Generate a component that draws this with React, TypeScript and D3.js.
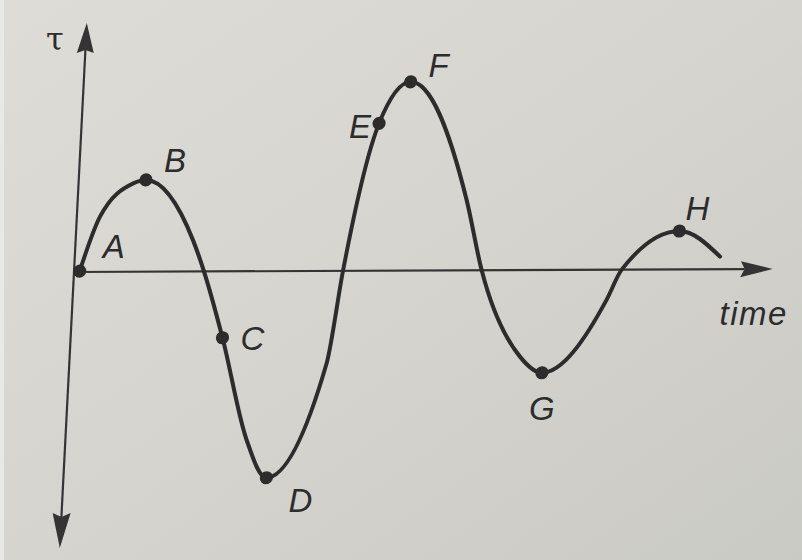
import React from "react";
import * as d3 from "d3";

// Stress history τ(t) under cyclic loading: knots of the smooth response curve
const curveTimes = [0.08, 0.331, 0.782, 0.96, 1.677, 1.857, 2.17, 2.59, 2.9, 3.677, 3.843, 4.25, 4.67, 5.557, 5.824, 6.434, 6.76, 7.63, 7.824, 8.62, 9.22];
const curveTaus = [0.004, 0.276, 0.442, 0.459, 0.157, 0, -0.332, -0.844, -1.033, -0.462, 0, 0.737, 0.944, 0.352, 0, -0.433, -0.514, -0.151, 0, 0.192, 0.063];

// Marked states along the history
const pointNames = ["A", "B", "C", "D", "E", "F", "G", "H"];
const pointTimes = [0.08, 0.96, 2.17, 2.9, 4.25, 4.67, 6.76, 8.62];
const pointTaus = [0.004, 0.459, -0.332, -1.033, 0.737, 0.944, -0.514, 0.192];

// Axis extents and titles
const timeAxisEnd = 9.98;
const tauAxisTop = 1.245;
const tauAxisBottom = -1.38;
const xTitle = "time";
const yTitle = "τ";

// Layout
const W = 802;
const H = 560;
const origin = { x: 74, y: 272 };
// slight shear/tilt of the drawing frame
const shearX = -0.0514;
const tiltY = -0.0043;

// label offsets (centre x, baseline y) relative to each marked point
const labelOffsets: [number, number][] = [
  [34, -13],
  [29, -8],
  [30, 12],
  [34, 34],
  [-19, 15],
  [28, -5],
  [0, 47],
  [18, -11],
];

const ink = "#2c2c2c";
const axisInk = "#343434";

export default function App() {
  const x = d3.scaleLinear().domain([0, 10]).range([0, 700]);
  const y = d3.scaleLinear().domain([0, 1]).range([0, -200]);

  // map local frame coordinates to page coordinates
  const toPage = (u: number, v: number) => ({
    x: origin.x + u + shearX * v,
    y: origin.y + tiltY * u + v,
  });

  const knots = curveTimes.map((t, i) => [x(t), y(curveTaus[i])] as [number, number]);
  const line = d3
    .line<[number, number]>()
    .x((d) => d[0])
    .y((d) => d[1])
    .curve(d3.curveMonotoneX);

  const arrow = (tipU: number, tipV: number, dirU: number, dirV: number, len: number, hw: number, notch: number) => {
    // dir points from base toward tip
    const bu = tipU - dirU * len;
    const bv = tipV - dirV * len;
    const pu = -dirV;
    const pv = dirU;
    const nu = bu + dirU * notch;
    const nv = bv + dirV * notch;
    return `M${tipU},${tipV}L${bu + pu * hw},${bv + pv * hw}L${nu},${nv}L${bu - pu * hw},${bv - pv * hw}Z`;
  };

  const yTop = y(tauAxisTop);
  const yBot = y(tauAxisBottom);
  const xEnd = x(timeAxisEnd);

  const titlePos = toPage(x(0), yTop);
  const xTitlePos = toPage(x(timeAxisEnd), 0);

  return (
    <svg
      width={W}
      height={H}
      viewBox={`0 0 ${W} ${H}`}
      style={{ position: "fixed", left: 0, top: 0, display: "block" }}
    >
      <defs>
        <linearGradient id="paper" x1="0" y1="0" x2="1" y2="1">
          <stop offset="0" stopColor="#dddcd7" />
          <stop offset="0.5" stopColor="#d5d4cf" />
          <stop offset="1" stopColor="#cacac5" />
        </linearGradient>
      </defs>
      <rect x={0} y={0} width={W} height={H} fill="url(#paper)" />
      <rect x={0} y={0} width={4} height={H} fill="#e8e8e5" />

      <g transform={`matrix(1,${tiltY},${shearX},1,${origin.x},${origin.y})`}>
        {/* τ axis */}
        <line x1={x(0)} y1={yTop + 26} x2={x(0)} y2={yBot - 30} stroke={axisInk} strokeWidth={2.2} />
        <path d={arrow(x(0), yTop, 0, -1, 30, 8.5, 3)} fill={axisInk} />
        <path d={arrow(x(0), yBot, 0, 1, 35, 9, 4)} fill={axisInk} />
        {/* time axis */}
        <line x1={x(0)} y1={0} x2={xEnd - 28} y2={0} stroke={axisInk} strokeWidth={2.2} />
        <path d={arrow(xEnd, 0, 1, 0, 32, 8, 4)} fill={axisInk} />

        {/* response curve */}
        <path d={line(knots) ?? ""} fill="none" stroke={ink} strokeWidth={4} strokeLinecap="round" />

        {/* marked states */}
        {pointTimes.map((t, i) => (
          <circle key={pointNames[i]} cx={x(t)} cy={y(pointTaus[i])} r={6.6} fill={ink} />
        ))}
      </g>

      {/* state labels */}
      {pointTimes.map((t, i) => {
        const p = toPage(x(t), y(pointTaus[i]));
        const [dx, dy] = labelOffsets[i];
        return (
          <text
            key={pointNames[i]}
            x={p.x + dx}
            y={p.y + dy}
            textAnchor="middle"
            fontFamily="'Liberation Sans', Arial, sans-serif"
            fontStyle="italic"
            fontSize={33}
            fill={ink}
          >
            {pointNames[i]}
          </text>
        );
      })}

      <text
        x={titlePos.x - 32}
        y={titlePos.y + 27}
        textAnchor="middle"
        fontFamily="'DejaVu Serif', 'Liberation Serif', serif"
        fontSize={32}
        fill={ink}
      >
        {yTitle}
      </text>
      <text
        x={xTitlePos.x - 53}
        y={xTitlePos.y + 56}
        textAnchor="start"
        fontFamily="'Liberation Sans', Arial, sans-serif"
        fontStyle="italic"
        fontSize={33}
        letterSpacing={1.5}
        fill={ink}
      >
        {xTitle}
      </text>
    </svg>
  );
}
